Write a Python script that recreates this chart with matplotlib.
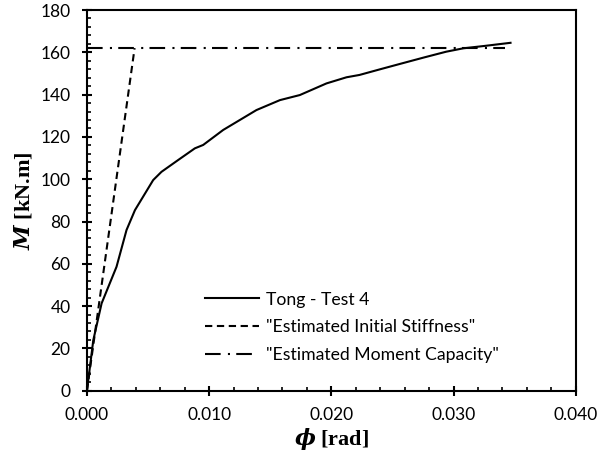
"""Moment-curvature plot: Tong Test 4 with estimated stiffness and capacity."""

import matplotlib

matplotlib.use("Agg")
import matplotlib.pyplot as plt
from matplotlib.ticker import MultipleLocator, FormatStrFormatter

# Tong - Test 4 measured curve (phi [rad], M [kN.m])
test_phi = [0.0, 0.00052, 0.0012, 0.00242, 0.00324, 0.00393, 0.00542, 0.0061,
            0.00747, 0.00883, 0.00951, 0.01115, 0.01387, 0.01579, 0.01742,
            0.0196, 0.02124, 0.0223, 0.024, 0.0256, 0.0276, 0.0294, 0.0308,
            0.0325, 0.03466]
test_m = [0.0, 23.9, 41.3, 58.6, 76.0, 85.4, 99.6, 103.5, 109.1, 114.6, 116.2,
          123.3, 132.7, 137.4, 139.8, 145.3, 148.2, 149.3, 152.0, 154.5,
          157.6, 160.3, 161.9, 163.0, 164.5]

# Estimated initial stiffness line
stiff_phi = [0.0, 0.0039]
stiff_m = [0.0, 162.0]

# Estimated moment capacity line
cap_phi = [0.0, 0.0342]
cap_m = [162.0, 162.0]

plt.rcParams["mathtext.fontset"] = "custom"
plt.rcParams["mathtext.it"] = "DejaVu Serif:italic:bold"
plt.rcParams["mathtext.rm"] = "Liberation Serif:bold"

tick_font = "Lato"
label_font = "Liberation Serif"

fig = plt.figure(figsize=(6.08, 4.62), dpi=100)
ax = fig.add_axes([0.143, 0.1543, 0.804, 0.824])

ax.plot(test_phi, test_m, color="black", linewidth=1.5, label="Tong - Test 4")
ax.plot(stiff_phi, stiff_m, color="black", linewidth=1.5,
        dashes=(3.5, 2.2), label='"Estimated Initial Stiffness"')
ax.plot(cap_phi, cap_m, color="black", linewidth=1.5,
        dashes=(7.5, 3.5, 1.0, 3.0), label='"Estimated Moment Capacity"')

ax.set_xlim(0, 0.04)
ax.set_ylim(0, 180)
ax.xaxis.set_major_locator(MultipleLocator(0.01))
ax.xaxis.set_minor_locator(MultipleLocator(0.002))
ax.yaxis.set_major_locator(MultipleLocator(20))
ax.yaxis.set_minor_locator(MultipleLocator(4))
ax.xaxis.set_major_formatter(FormatStrFormatter("%.3f"))

ax.tick_params(which="major", direction="inout", length=7.5, width=1.5,
               pad=8, labelsize=12.5)
ax.tick_params(which="minor", direction="in", length=3.2, width=1.2)
for lbl in ax.get_xticklabels() + ax.get_yticklabels():
    lbl.set_fontfamily(tick_font)
for sp in ax.spines.values():
    sp.set_linewidth(1.5)

ax.set_xlabel(r"$\phi$ [rad]", fontsize=16, fontfamily=label_font,
              fontweight="bold", labelpad=2)
ax.set_ylabel(r"$M$ [kN.m]", fontsize=16, fontfamily=label_font,
              fontweight="bold", labelpad=4)

ax.legend(loc="lower left", bbox_to_anchor=(0.241, 0.073), frameon=False,
          borderpad=0, borderaxespad=0, handlelength=3.1, handletextpad=0.38,
          labelspacing=0.66, prop={"family": tick_font, "size": 12.7})

fig.savefig("out.png", dpi=100)
